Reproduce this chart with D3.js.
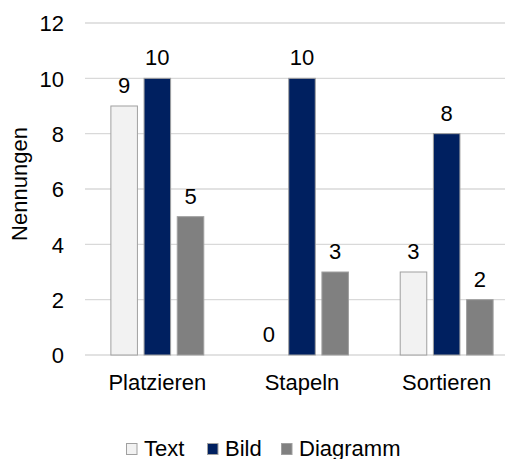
<!DOCTYPE html>
<html>
<head>
<meta charset="utf-8">
<script src="https://cdn.jsdelivr.net/npm/d3@7"></script>
<style>
  html, body { margin: 0; padding: 0; background: #fff; }
  svg { display: block; font-family: "Liberation Sans", Arial, sans-serif; }
</style>
</head>
<body>
<svg id="chart" width="505" height="459"></svg>
<script>
// Task categories on the x axis
const categories = ["Platzieren", "Stapeln", "Sortieren"];
// One series per representation type
const seriesNames = ["Text", "Bild", "Diagramm"];
const textValues = [9, 0, 3];
const bildValues = [10, 10, 8];
const diagrammValues = [5, 3, 2];
const seriesColors = ["#f2f2f2", "#002060", "#808080"];
const yTicks = [0, 2, 4, 6, 8, 10, 12];

const seriesValues = [textValues, bildValues, diagrammValues];

const svg = d3.select("#chart");
const fontSize = 22;

const x0 = d3.scaleBand().domain(categories).range([85, 519]).paddingInner(0).paddingOuter(0);
const x1 = d3.scaleBand().domain(seriesNames).range([0, x0.bandwidth()]).paddingInner(0.2).paddingOuter(0.78);
const y = d3.scaleLinear().domain([0, 12]).range([355, 23]);

// Horizontal gridlines
svg.append("g")
  .selectAll("line")
  .data(yTicks)
  .join("line")
  .attr("x1", 85).attr("x2", 519)
  .attr("y1", d => y(d)).attr("y2", d => y(d))
  .attr("stroke", "#d9d9d9")
  .attr("stroke-width", 1.3);

// Y axis tick labels
const yAxis = d3.axisLeft(y).tickValues(yTicks).tickSize(0).tickPadding(0);
const gy = svg.append("g").attr("transform", "translate(64,0)").call(yAxis);
gy.select(".domain").remove();
gy.selectAll("text")
  .attr("font-size", fontSize)
  .attr("font-family", "Liberation Sans, Arial, sans-serif")
  .attr("fill", "#000")
  .attr("dy", "0.36em");

// Y axis title
svg.append("text")
  .attr("transform", "translate(27,184) rotate(-90)")
  .attr("text-anchor", "middle")
  .attr("font-size", fontSize)
  .attr("fill", "#000")
  .text("Nennungen");

// Category labels
const xAxis = d3.axisBottom(x0).tickSize(0).tickPadding(0);
const gx = svg.append("g").attr("transform", "translate(0,390)").call(xAxis);
gx.select(".domain").remove();
gx.selectAll("text")
  .attr("font-size", fontSize)
  .attr("font-family", "Liberation Sans, Arial, sans-serif")
  .attr("fill", "#000")
  .attr("dy", 0)
  .attr("y", 0);

// Bars and value labels
const rows = [];
categories.forEach((c, ci) => {
  seriesNames.forEach((s, si) => {
    rows.push({ cat: c, series: s, value: seriesValues[si][ci], color: seriesColors[si] });
  });
});

const groups = svg.append("g");
groups.selectAll("rect")
  .data(rows.filter(d => d.value > 0))
  .join("rect")
  .attr("x", d => x0(d.cat) + x1(d.series))
  .attr("y", d => y(d.value))
  .attr("width", x1.bandwidth())
  .attr("height", d => y(0) - y(d.value))
  .attr("fill", d => d.color)
  .attr("stroke", "#a0a0a0")
  .attr("stroke-width", 1);

groups.selectAll("text")
  .data(rows)
  .join("text")
  .attr("x", d => x0(d.cat) + x1(d.series) + x1.bandwidth() / 2)
  .attr("y", d => y(d.value) - 13)
  .attr("text-anchor", "middle")
  .attr("font-size", fontSize)
  .attr("fill", "#000")
  .text(d => d.value);

// Legend
const legendX = [126, 207, 281];
const legend = svg.append("g");
seriesNames.forEach((s, i) => {
  legend.append("rect")
    .attr("x", legendX[i] + 0.5).attr("y", 443.5)
    .attr("width", 10.5).attr("height", 11)
    .attr("fill", seriesColors[i])
    .attr("stroke", "#a0a0a0")
    .attr("stroke-width", 1);
  legend.append("text")
    .attr("x", legendX[i] + 18)
    .attr("y", 456)
    .attr("font-size", fontSize)
    .attr("fill", "#000")
    .text(s);
});
</script>
</body>
</html>
